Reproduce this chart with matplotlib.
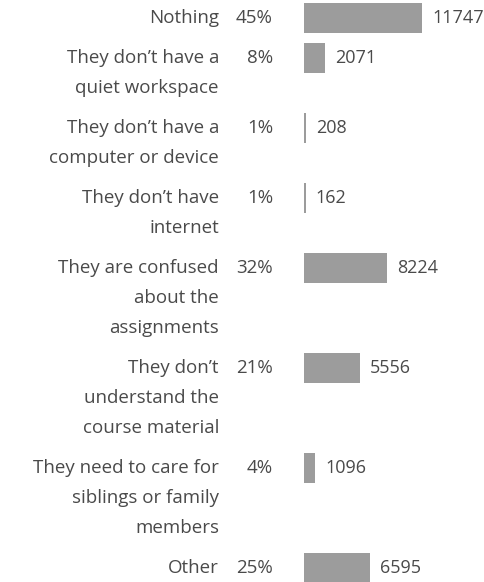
import matplotlib
matplotlib.use("Agg")
import matplotlib.pyplot as plt
import matplotlib.transforms as mtransforms

categories = [
    "Nothing",
    "They don\u2019t have a\nquiet workspace",
    "They don\u2019t have a\ncomputer or device",
    "They don\u2019t have\ninternet",
    "They are confused\nabout the\nassignments",
    "They don\u2019t\nunderstand the\ncourse material",
    "They need to care for\nsiblings or family\nmembers",
    "Other",
]
percents = ["45%", "8%", "1%", "1%", "32%", "21%", "4%", "25%"]
counts = [11747, 2071, 208, 162, 8224, 5556, 1096, 6595]

W, H = 485, 582
DPI = 100
TEXT_COLOR = "#4a4a4a"
BAR_COLOR = "#9c9c9c"
FONT = "Open Sans"
FS = 13.5
FS_COUNT = 13.0
LINE = 30      # pixel spacing between text lines
GAP = 10       # extra pixel gap between rows
BAR_H = 30

fig = plt.figure(figsize=(W / DPI, H / DPI), dpi=DPI)
bar_left = 304
ax = fig.add_axes([bar_left / W, 0, (W - bar_left) / W, 1])
ax.set_xlim(0, (W - bar_left) / 0.01005)
ax.set_ylim(H, 0)
ax.axis("off")

# row centres in pixel units, stacked by the number of text lines per label
centers = []
y = 18
for label in categories:
    centers.append(y)
    y += label.count("\n") * LINE + LINE + GAP

ax.barh(centers, counts, height=BAR_H, color=BAR_COLOR, left=0)

fig_x = mtransforms.blended_transform_factory(fig.transFigure, ax.transData)
for label, pct, cnt, cy in zip(categories, percents, counts, centers):
    for i, line in enumerate(label.split("\n")):
        ax.text(219 / W, cy + i * LINE, line, transform=fig_x, ha="right",
                va="center", fontsize=FS, color=TEXT_COLOR, family=FONT)
    ax.text(273 / W, cy, pct, transform=fig_x, ha="right", va="center",
            fontsize=FS, color=TEXT_COLOR, family=FONT)
    ax.annotate(f"{cnt}", xy=(cnt, cy), xytext=(10, 0),
                textcoords="offset pixels", ha="left", va="center",
                fontsize=FS_COUNT, color=TEXT_COLOR, family=FONT)

fig.savefig("out.png", dpi=DPI)
